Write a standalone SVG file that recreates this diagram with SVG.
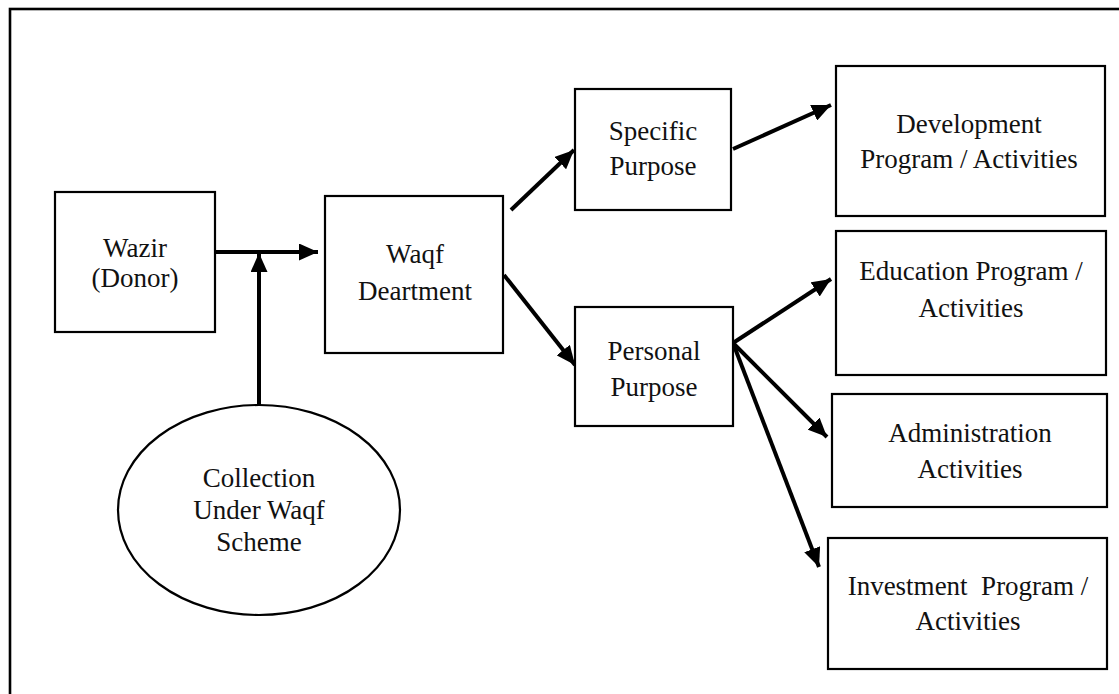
<svg xmlns="http://www.w3.org/2000/svg" width="1119" height="694" viewBox="0 0 1119 694">
<style>
.box{fill:#fff;stroke:#000;stroke-width:2.2}
.frame{fill:none;stroke:#000;stroke-width:2.6}
.t{font-family:"Liberation Serif","Times New Roman",serif;font-size:27px;fill:#111;text-anchor:middle;white-space:pre}
.c{stroke:#000;stroke-width:4;fill:none}
</style>
<defs>
<marker id="ah" markerUnits="userSpaceOnUse" markerWidth="20" markerHeight="17" refX="19" refY="8.5" orient="auto">
<path d="M0,0 L19,8.5 L0,17 z" fill="#000"/>
</marker>
</defs>
<rect class="frame" x="10" y="9" width="1130" height="700"/>
<g id="connectors">
<line class="c" x1="216" y1="252" x2="318" y2="252" marker-end="url(#ah)"/>
<line class="c" x1="259" y1="405" x2="259" y2="253" marker-end="url(#ah)"/>
<line class="c" x1="511" y1="210" x2="574" y2="150" marker-end="url(#ah)"/>
<line class="c" x1="504" y1="275" x2="575" y2="365" marker-end="url(#ah)"/>
<line class="c" x1="733" y1="149" x2="831" y2="105" marker-end="url(#ah)"/>
<line class="c" x1="733" y1="343" x2="831" y2="279" marker-end="url(#ah)"/>
<line class="c" x1="733" y1="343" x2="827" y2="437" marker-end="url(#ah)"/>
<line class="c" x1="733" y1="343" x2="819" y2="567" marker-end="url(#ah)"/>
</g>
<g id="wazir">
<rect class="box" x="55" y="192" width="160" height="140"/>
<text class="t" x="135" y="257">Wazir</text>
<text class="t" x="135" y="287">(Donor)</text>
</g>
<g id="collection">
<ellipse class="box" cx="259" cy="510" rx="141" ry="105"/>
<text class="t" x="259" y="487">Collection</text>
<text class="t" x="259" y="519">Under Waqf</text>
<text class="t" x="259" y="551">Scheme</text>
</g>
<g id="waqf">
<rect class="box" x="325" y="196" width="178" height="157"/>
<text class="t" x="415" y="263">Waqf</text>
<text class="t" x="415" y="300">Deartment</text>
</g>
<g id="specific">
<rect class="box" x="575" y="89" width="156" height="121"/>
<text class="t" x="653" y="140">Specific</text>
<text class="t" x="653" y="175">Purpose</text>
</g>
<g id="personal">
<rect class="box" x="575" y="307" width="158" height="119"/>
<text class="t" x="654" y="360">Personal</text>
<text class="t" x="654" y="396">Purpose</text>
</g>
<g id="development">
<rect class="box" x="836" y="66" width="269" height="150"/>
<text class="t" x="969" y="133">Development</text>
<text class="t" x="969" y="168">Program / Activities</text>
</g>
<g id="education">
<rect class="box" x="836" y="231" width="270" height="144"/>
<text class="t" x="971" y="280">Education Program /</text>
<text class="t" x="971" y="317">Activities</text>
</g>
<g id="administration">
<rect class="box" x="832" y="394" width="275" height="113"/>
<text class="t" x="970" y="442">Administration</text>
<text class="t" x="970" y="478">Activities</text>
</g>
<g id="investment">
<rect class="box" x="828" y="538" width="279" height="131"/>
<text class="t" x="968" y="595">Investment  Program /</text>
<text class="t" x="968" y="630">Activities</text>
</g>
</svg>
